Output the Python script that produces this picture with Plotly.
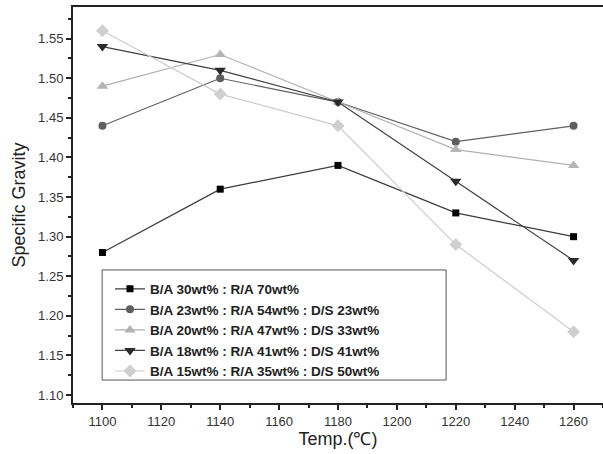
import plotly.graph_objects as go

temps = [1100, 1140, 1180, 1220, 1260]
s1 = [1.28, 1.36, 1.39, 1.33, 1.30]
s2 = [1.44, 1.50, 1.47, 1.42, 1.44]
s3 = [1.49, 1.53, 1.47, 1.41, 1.39]
s4 = [1.54, 1.51, 1.47, 1.37, 1.27]
s5 = [1.56, 1.48, 1.44, 1.29, 1.18]
names = [
    "B/A 30wt% : R/A 70wt%",
    "B/A 23wt% : R/A 54wt% : D/S 23wt%",
    "B/A 20wt% : R/A 47wt% : D/S 33wt%",
    "B/A 18wt% : R/A 41wt% : D/S 41wt%",
    "B/A 15wt% : R/A 35wt% : D/S 50wt%",
]
series = [s1, s2, s3, s4, s5]
line_colors = ["#3a3a3a", "#606060", "#b0b0b0", "#404040", "#cccccc"]
marker_colors = ["#000000", "#5e5e5e", "#b4b4b4", "#2a2a2a", "#cfcfcf"]
symbols = ["square", "circle", "triangle-up", "triangle-down", "diamond"]
sizes = [7, 8, 10, 10, 10]

fig = go.Figure()
for ys, nm, lc, mc, sy, sz in zip(series, names, line_colors, marker_colors, symbols, sizes):
    fig.add_trace(go.Scatter(
        x=temps, y=ys, name=nm, mode="lines+markers",
        line=dict(color=lc, width=1.2),
        marker=dict(symbol=sy, size=sz, color=mc),
    ))

# legend frame
fig.add_shape(type="rect", xref="paper", yref="paper",
              x0=0.055, x1=0.704, y0=0.058, y1=0.336,
              line=dict(color="#555555", width=1), fillcolor="rgba(0,0,0,0)", layer="below")

fig.update_layout(
    width=603, height=454,
    margin=dict(l=73, r=0, t=7, b=51),
    plot_bgcolor="white", paper_bgcolor="white",
    font=dict(family="Arial, Liberation Sans, sans-serif", size=13, color="#333333"),
    showlegend=True,
    legend=dict(
        x=0.0698, y=0.327, xanchor="left", yanchor="top",
        borderwidth=0, bgcolor="rgba(0,0,0,0)",
        font=dict(size=13.5, color="#222222", family="Arial, Liberation Sans, sans-serif", weight="bold"),
        tracegroupgap=0, itemwidth=30,
    ),
    xaxis=dict(
        range=[1090, 1270], tickvals=[1100, 1120, 1140, 1160, 1180, 1200, 1220, 1240, 1260],
        showgrid=False, zeroline=False, showline=True, linecolor="#222222", linewidth=2,
        mirror=True, ticks="outside", ticklen=5, tickwidth=1.5, tickcolor="#222222",
        minor=dict(dtick=10, tick0=1090, ticks="outside", ticklen=3, tickwidth=1.5, tickcolor="#222222"),
        title=dict(text="Temp.(℃)", font=dict(size=18, color="#222222"), standoff=0),
        tickfont=dict(size=13, color="#333333"),
    ),
    yaxis=dict(
        range=[1.09, 1.59], tickvals=[1.10, 1.15, 1.20, 1.25, 1.30, 1.35, 1.40, 1.45, 1.50, 1.55],
        tickformat=".2f",
        showgrid=False, zeroline=False, showline=True, linecolor="#222222", linewidth=2,
        ticks="outside", ticklen=5, tickwidth=1.5, tickcolor="#222222",
        minor=dict(dtick=0.025, tick0=1.075, ticks="outside", ticklen=3, tickwidth=1.5, tickcolor="#222222"),
        title=dict(text="Specific Gravity", font=dict(size=18, color="#222222"), standoff=8),
        tickfont=dict(size=13, color="#333333"),
    ),
)

fig.write_html("out.html", config={"displayModeBar": False})
with open("out.html", encoding="utf-8") as f:
    html = f.read()
html = html.replace("<body>", '<body style="margin:0;padding:0;">', 1)
with open("out.html", "w", encoding="utf-8") as f:
    f.write(html)
